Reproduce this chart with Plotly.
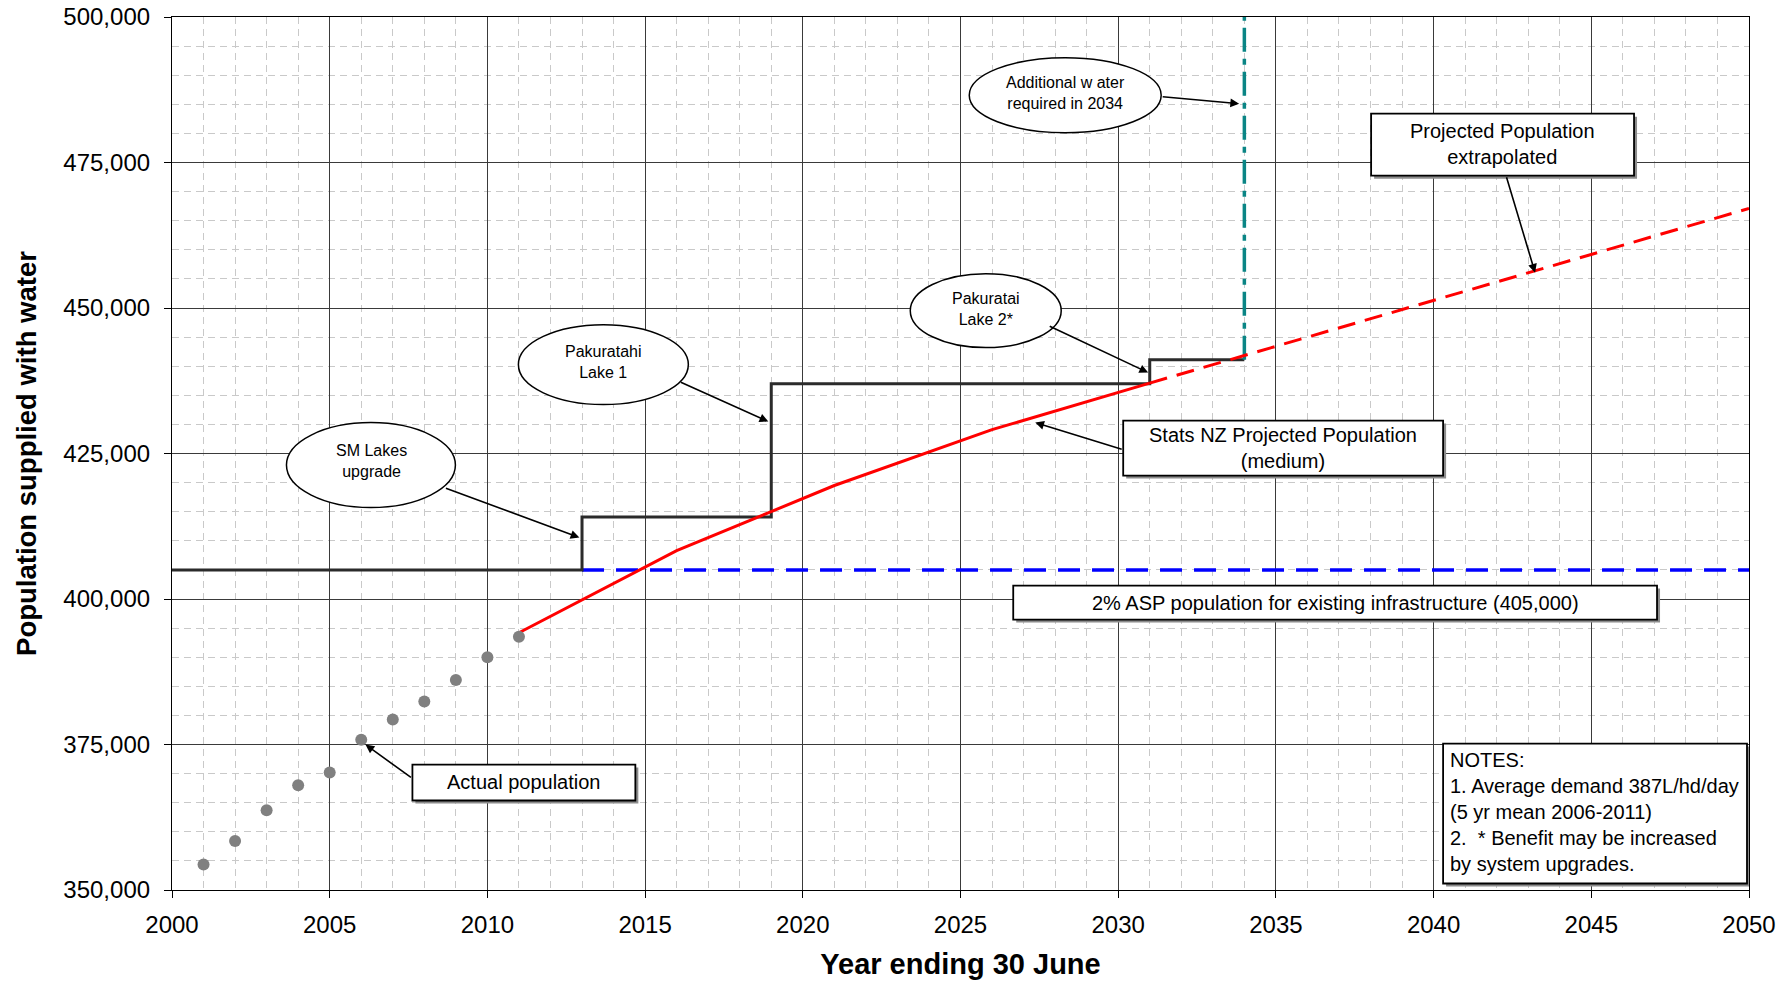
import plotly.graph_objects as go

# ---------------- data ----------------
actual_years = [2001, 2002, 2003, 2004, 2005, 2006, 2007, 2008, 2009, 2010, 2011]
actual_pop = [354400, 358400, 363700, 368000, 370200, 375800, 379300, 382400, 386100, 390000, 393500]

statsnz_years = [2011, 2016, 2021, 2026, 2031]
statsnz_pop = [394200, 408300, 419500, 429100, 437100]

extrap_years = [2031, 2050]
extrap_pop = [437100, 467100]

capacity_years = [2000, 2013, 2013, 2019, 2019, 2031, 2031, 2034]
capacity_pop = [405000, 405000, 414100, 414100, 437000, 437000, 441100, 441100]

asp_years = [2013, 2050]
asp_pop = [405000, 405000]

additional_years = [2034, 2034]
additional_pop = [441100, 500000]

x_range = [2000, 2050]
y_range = [350000, 500000]

# ---------------- figure geometry (pixel helpers for callouts) ----------------
W, H = 1789, 983
L, R, T, B = 171.5, 1749, 17.3, 890.5


def px(xp):
    return x_range[0] + (xp - L) / (R - L) * (x_range[1] - x_range[0])


def py(yp):
    return y_range[1] - (yp - T) / (B - T) * (y_range[1] - y_range[0])


FONT = "Liberation Sans, Arial, Helvetica, sans-serif"

fig = go.Figure()

fig.add_trace(go.Scatter(x=asp_years, y=asp_pop, mode="lines",
                         line=dict(color="#0000ff", width=3.5, dash="22px,12px"),
                         name="2% ASP population"))
fig.add_trace(go.Scatter(x=capacity_years, y=capacity_pop, mode="lines",
                         line=dict(color="#2b2b2b", width=3),
                         name="Supply capacity"))
fig.add_trace(go.Scatter(x=additional_years, y=additional_pop, mode="lines",
                         line=dict(color="#0a8585", width=3.5, dash="24px,7px,6px,7px"),
                         name="Additional water required"))
fig.add_trace(go.Scatter(x=extrap_years, y=extrap_pop, mode="lines",
                         line=dict(color="#ff0000", width=3, dash="18px,10px"),
                         name="Projected population extrapolated"))
fig.add_trace(go.Scatter(x=statsnz_years, y=statsnz_pop, mode="lines",
                         line=dict(color="#ff0000", width=3),
                         name="Stats NZ projected population (medium)"))
fig.add_trace(go.Scatter(x=actual_years, y=actual_pop, mode="markers",
                         marker=dict(color="#808080", size=12),
                         name="Actual population"))

shapes = []


def box(x0, y0, x1, y1):
    shapes.append(dict(type="rect", xref="x", yref="y",
                       x0=px(x0 + 3), x1=px(x1 + 3), y0=py(y0 + 3), y1=py(y1 + 3),
                       line=dict(width=0), fillcolor="#8c8c8c", layer="above"))
    shapes.append(dict(type="rect", xref="x", yref="y",
                       x0=px(x0), x1=px(x1), y0=py(y0), y1=py(y1),
                       line=dict(color="black", width=1.8), fillcolor="white", layer="above"))


def ellipse(x0, y0, x1, y1):
    shapes.append(dict(type="circle", xref="x", yref="y",
                       x0=px(x0), x1=px(x1), y0=py(y0), y1=py(y1),
                       line=dict(color="black", width=1.5), fillcolor="white", layer="above"))


annotations = []


def label(xc, yc, text, size, align="center", xanchor="center"):
    annotations.append(dict(x=px(xc), y=py(yc), xref="x", yref="y", text=text,
                            showarrow=False, align=align, xanchor=xanchor, yanchor="middle",
                            font=dict(family=FONT, size=size, color="black")))


def arrow(x_tail, y_tail, x_tip, y_tip):
    annotations.append(dict(x=px(x_tip), y=py(y_tip), ax=px(x_tail), ay=py(y_tail),
                            xref="x", yref="y", axref="x", ayref="y", text="",
                            showarrow=True, arrowhead=2, arrowsize=1.1, arrowwidth=1.6,
                            arrowcolor="black", standoff=0, startstandoff=0))


# ellipse callouts
ellipse(286, 423, 455, 508)
label(371, 461, "SM Lakes<br>upgrade", 16)
arrow(444, 488, 579, 538)

ellipse(518, 325, 688, 405)
label(603, 362, "Pakuratahi<br>Lake 1", 16)
arrow(679, 382, 768, 422)

ellipse(910, 274, 1061, 348)
label(986, 309, "Pakuratai<br>Lake 2*", 16)
arrow(1048, 326, 1148, 373)

ellipse(969, 58, 1161, 133)
label(1065, 93, "Additional w ater<br>required in 2034", 16)
arrow(1161, 97, 1239, 104)

# rectangular callouts
box(1371, 114, 1634, 176)
label(1502, 144, "Projected Population<br>extrapolated", 20)
arrow(1506, 176, 1535, 273)

box(1123, 421, 1443, 476)
label(1283, 448, "Stats NZ Projected Population<br>(medium)", 20)
arrow(1123, 450, 1035, 423)

box(1013, 586, 1657, 620)
label(1335, 603, "2% ASP population for existing infrastructure (405,000)", 20)

box(412, 765, 635, 801)
label(523, 782, "Actual population", 20)
arrow(412, 779, 365, 745)

box(1443, 744, 1747, 884)
label(1448, 812, "NOTES:<br>1. Average demand 387L/hd/day<br>(5 yr mean 2006-2011)<br>"
      "2.  * Benefit may be increased<br>by system upgrades.", 20, align="left", xanchor="left")

fig.update_layout(
    width=W, height=H,
    margin=dict(l=L, r=W - R, t=T, b=H - B, autoexpand=False),
    paper_bgcolor="white", plot_bgcolor="white",
    showlegend=False,
    font=dict(family=FONT, color="black"),
    shapes=shapes, annotations=annotations,
    xaxis=dict(
        range=x_range, dtick=5, tick0=2000,
        showline=True, linecolor="black", linewidth=1.2, mirror=True,
        ticks="outside", ticklen=7, tickcolor="black", tickwidth=1,
        tickfont=dict(family=FONT, size=24, color="black"),
        ticklabelstandoff=6,
        showgrid=True, gridcolor="#3a3a3a", gridwidth=1,
        zeroline=False,
        minor=dict(dtick=1, showgrid=True, gridcolor="#c9c9c9", griddash="7px,5px", gridwidth=1),
        title=dict(text="<b>Year ending 30 June</b>", standoff=16,
                   font=dict(family=FONT, size=29, color="black")),
    ),
    yaxis=dict(
        range=y_range, dtick=25000, tick0=350000, tickformat=",d",
        showline=True, linecolor="black", linewidth=1.2, mirror=True,
        ticks="outside", ticklen=7, tickcolor="black", tickwidth=1,
        tickfont=dict(family=FONT, size=24, color="black"),
        ticklabelstandoff=9,
        showgrid=True, gridcolor="#3a3a3a", gridwidth=1,
        zeroline=False,
        minor=dict(dtick=5000, showgrid=True, gridcolor="#c9c9c9", griddash="7px,5px", gridwidth=1),
        title=dict(text="<b>Population supplied with water</b>", standoff=18,
                   font=dict(family=FONT, size=27.5, color="black")),
    ),
)

fig.write_html("out.html", config={"displayModeBar": False},
               post_script="document.body.style.margin='0px';document.body.style.overflow='hidden';")
